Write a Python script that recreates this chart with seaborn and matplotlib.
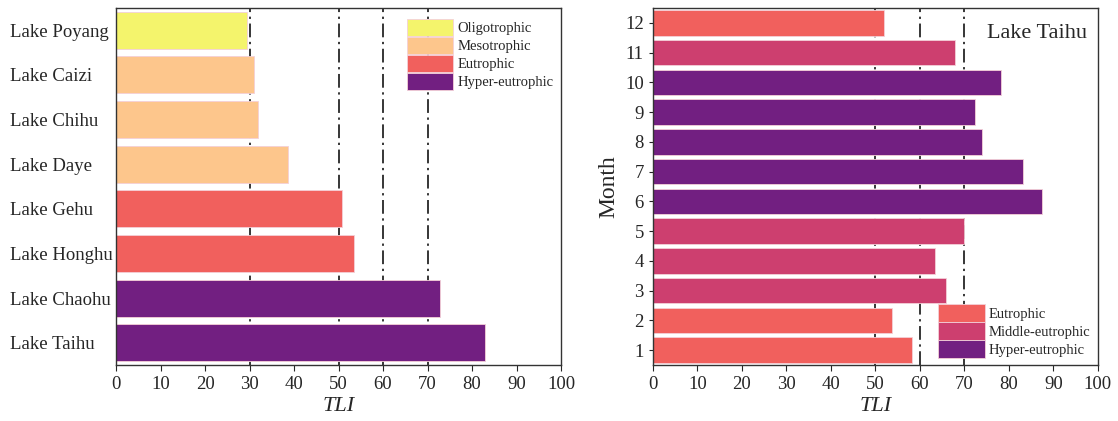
import matplotlib
matplotlib.use("Agg")
import matplotlib.pyplot as plt
import matplotlib.patches as mpatches
import pandas as pd
import seaborn as sns

# Lake TLI values (left panel)
lakes = ["Lake Poyang", "Lake Caizi", "Lake Chihu", "Lake Daye",
         "Lake Gehu", "Lake Honghu", "Lake Chaohu", "Lake Taihu"]
lake_tli = [29.4, 31.0, 32.0, 38.7, 50.7, 53.4, 72.9, 83.0]
lake_state = ["Oligotrophic", "Mesotrophic", "Mesotrophic", "Mesotrophic",
              "Eutrophic", "Eutrophic", "Hyper-eutrophic", "Hyper-eutrophic"]

# Monthly TLI for Lake Taihu (right panel)
months = ["12", "11", "10", "9", "8", "7", "6", "5", "4", "3", "2", "1"]
month_tli = [52.0, 68.0, 78.2, 72.4, 74.0, 83.2, 87.4, 70.0, 63.4, 65.8, 53.8, 58.2]
month_state = ["Eutrophic", "Middle-eutrophic", "Hyper-eutrophic", "Hyper-eutrophic",
               "Hyper-eutrophic", "Hyper-eutrophic", "Hyper-eutrophic", "Middle-eutrophic",
               "Middle-eutrophic", "Middle-eutrophic", "Eutrophic", "Eutrophic"]

left_levels = ["Oligotrophic", "Mesotrophic", "Eutrophic", "Hyper-eutrophic"]
right_levels = ["Eutrophic", "Middle-eutrophic", "Hyper-eutrophic"]
left_lines = [30, 50, 60, 70]
right_lines = [50, 60, 70]

palette = {
    "Oligotrophic": "#F4F46C",
    "Mesotrophic": "#FDC68C",
    "Eutrophic": "#F1605D",
    "Middle-eutrophic": "#CD3F6F",
    "Hyper-eutrophic": "#721F81",
}

sns.set_style("ticks")
plt.rcParams["font.family"] = ["Liberation Serif", "DejaVu Serif"]
plt.rcParams["axes.linewidth"] = 1.0

df_l = pd.DataFrame({"lake": lakes, "TLI": lake_tli, "state": lake_state})
df_r = pd.DataFrame({"month": months, "TLI": month_tli, "state": month_state})

fig = plt.figure(figsize=(11.18, 4.21), dpi=100)
ax1 = fig.add_axes([0.1038, 0.133, 0.398, 0.848])
ax2 = fig.add_axes([0.584, 0.133, 0.398, 0.848])

dash = (0, (9, 3, 1.5, 3))


def draw(ax, df, ycol, order, levels, lines, width):
    for v in lines:
        ax.axvline(v, color="black", lw=1.1, linestyle=dash, zorder=0)
    sns.barplot(data=df, x="TLI", y=ycol, hue="state", order=order,
                hue_order=levels, palette=palette, dodge=False, width=width,
                saturation=1, edgecolor="#f4d0d8", linewidth=0.6, ax=ax,
                legend=False, zorder=2)
    ax.set_xlim(0, 100)
    ax.set_xticks(range(0, 101, 10))
    ax.tick_params(axis="x", labelsize=13.5, direction="out", length=4, pad=4)
    ax.set_xlabel("TLI", fontsize=16, style="italic", labelpad=3)
    for s in ax.spines.values():
        s.set_visible(True)
        s.set_color("#333333")
    handles = [mpatches.Patch(facecolor=palette[k], edgecolor="#f4d0d8",
                              linewidth=0.6, label=k) for k in levels]
    return handles


h1 = draw(ax1, df_l, "lake", lakes, left_levels, left_lines, 0.83)
ax1.set_ylabel("")
ax1.tick_params(axis="y", labelsize=13.5, length=0, pad=76)
for lab in ax1.get_yticklabels():
    lab.set_horizontalalignment("left")
ax1.legend(handles=h1, loc="upper right", bbox_to_anchor=(1.0, 0.99),
           frameon=False, fontsize=10.5, handlelength=3.2, handleheight=1.45,
           handletextpad=0.3, labelspacing=0.05, borderaxespad=0.1)

h2 = draw(ax2, df_r, "month", months, right_levels, right_lines, 0.85)
ax2.set_ylabel("Month", fontsize=17, labelpad=4)
ax2.tick_params(axis="y", labelsize=13.5, length=3)
ax2.legend(handles=h2, loc="lower right", bbox_to_anchor=(1.0, 0.0),
           frameon=False, fontsize=10.5, handlelength=3.2, handleheight=1.45,
           handletextpad=0.3, labelspacing=0.05, borderaxespad=0.1)
ax2.text(0.975, 0.955, "Lake Taihu", transform=ax2.transAxes, ha="right",
         va="top", fontsize=16)

fig.savefig("out.png", dpi=100)
plt.close(fig)
